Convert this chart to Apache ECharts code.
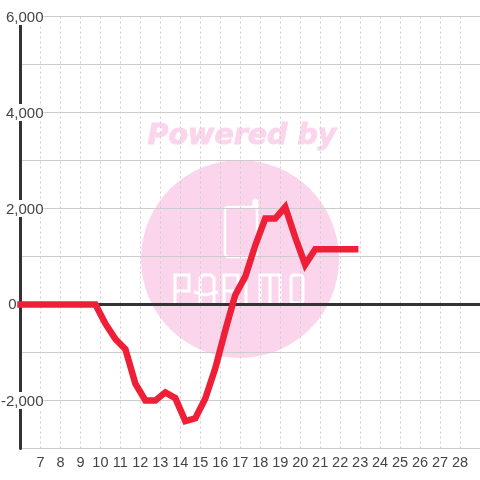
<!DOCTYPE html>
<html><head><meta charset="utf-8">
<style>html,body{margin:0;padding:0;background:#fff}#c{width:480px;height:480px}</style>
<script src="https://cdn.jsdelivr.net/npm/echarts@6/dist/echarts.min.js"></script></head>
<body><div id="c"></div>
<script>
const hours=[6,6.25,6.75,7.25,7.75,8.25,8.75,9.25,9.75,10.25,10.75,11.25,11.75,12.25,12.75,13.25,13.75,14.25,14.75,15.25,15.75,16.25,16.75,17.25,17.75,18.25,18.75,19.25,19.75,20.25,20.75,21.25,21.75,22.25,22.75];
const values=[0,0,0,0,0,0,0,0,0,-400,-720,-930,-1650,-2000,-2000,-1830,-1950,-2430,-2370,-1960,-1330,-540,200,580,1230,1790,1790,2030,1400,830,1150,1150,1150,1150,1150];
const xTicks=[7,8,9,10,11,12,13,14,15,16,17,18,19,20,21,22,23,24,25,26,27,28];
const yLabelled=[-2000,2000,4000,6000];
const points=hours.map((h,i)=>[h,values[i]]);
const pink='#fbd5ec';
const white={fill:'none',stroke:'#fff',lineWidth:3};
const polylines=[
 [[175,303],[175,275],[189,275],[189,291],[175,291]],
 [[200,303],[200,278],[203,275],[211,275],[214,278],[214,303]],
 [[194,292],[205,295],[218,292]],
 [[224,303],[224,275],[238,275],[238,291],[224,291]],
 [[232,291],[238,303]],
 [[246,303],[246,282]],
 [[246,277],[246,275]],
 [[260,303],[260,275],[280,275],[280,303]],
 [[270,275],[270,303]],
 [[254,207],[254,201],[255.5,200],[257,201],[257,210]]
];
const chart=echarts.init(document.getElementById('c'),null,{renderer:'canvas'});
chart.setOption({
 animation:false,backgroundColor:'#fff',
 grid:{left:20.5,right:0,top:16.5,bottom:31.5,containLabel:false,outerBoundsMode:'none'},
 xAxis:{type:'value',min:6,max:29,interval:1,
  axisLine:{show:true,onZero:false,lineStyle:{color:'#ccc',width:1}},axisTick:{show:false},
  axisLabel:{margin:7,color:'#444',fontFamily:'Liberation Sans',fontSize:14.5,showMinLabel:false,showMaxLabel:false,
    formatter:v=>xTicks.includes(v)?String(v):''},
  splitLine:{show:true,showMinLine:false,showMaxLine:false,lineStyle:{color:'#ccc',type:[2,3],width:1}}},
 yAxis:{type:'value',min:-3000,max:6000,interval:1000,z:3,
  axisLine:{show:true,onZero:false,lineStyle:{color:'#333',width:3}},axisTick:{show:false},
  axisLabel:{margin:-23,align:'right',color:'#444',fontFamily:'Liberation Sans',fontSize:15,
    formatter:v=>v===0?'{z|0}':(yLabelled.includes(v)?'{b|'+echarts.format.addCommas(v)+'}':''),
    rich:{b:{backgroundColor:'#fff',color:'#444',fontFamily:'Liberation Sans',fontSize:15,lineHeight:16,padding:[2,0,0,0]},
          z:{color:'#444',fontFamily:'Liberation Sans',fontSize:15,padding:[0,27,0,0]}}},
  splitLine:{show:true,lineStyle:{color:'#ccc',width:1}}},
 graphic:[
  {type:'circle',z:-5,shape:{cx:240,cy:259,r:99},style:{fill:pink}},
  {type:'rect',z:-4,shape:{x:225,y:207,width:32,height:50,r:3},style:{fill:'none',stroke:'#fff',lineWidth:2.5}},
  {type:'rect',z:-4,shape:{x:291,y:275,width:12,height:28,r:3},style:white},
  ...polylines.map(p=>({type:'polyline',z:-4,shape:{points:p},style:white})),
  {type:'text',z:-5,x:242,y:137,style:{text:'Powered by',fill:pink,stroke:pink,lineWidth:1,font:'italic bold 28.5px "DejaVu Sans"',align:'center',verticalAlign:'middle'}}
 ],
 series:[{type:'line',data:points,showSymbol:false,symbol:'none',clip:false,z:5,
  lineStyle:{color:'#ee1f36',width:6.5,cap:'square',join:'miter'},
  markLine:{silent:true,symbol:'none',label:{show:false},z:4,data:[{yAxis:0}],lineStyle:{color:'#333',width:3,type:'solid'}}}]
});
</script></body></html>
